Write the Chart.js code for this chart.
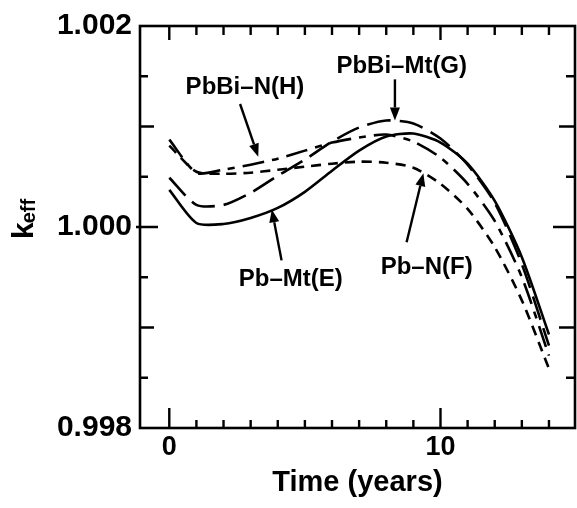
<!DOCTYPE html>
<html><head><meta charset="utf-8">
<script src="https://cdn.jsdelivr.net/npm/chart.js@4.4.1/dist/chart.umd.min.js"></script>
<style>html,body{margin:0;padding:0;background:#fff;}#wrap{width:577px;height:508px;}</style>
</head><body><div id="wrap"><canvas id="c" width="577" height="508"></canvas></div>
<script>
// ---- data ----
const years   = [0, 1, 2, 3, 4, 5, 6, 7, 8, 9, 10, 11, 12, 13, 14];
const pbMtE   = [1.00037, 1.00004, 1.00003, 1.00009, 1.00019, 1.00035, 1.00056, 1.00076, 1.00090, 1.00093, 1.00084, 1.00063, 1.00026, 0.99970, 0.99893];
const pbNF    = [1.00081, 1.00055, 1.00053, 1.00054, 1.00057, 1.00060, 1.00063, 1.00065, 1.00064, 1.00059, 1.00043, 1.00018, 0.99980, 0.99927, 0.99859];
const pbBiMtG = [1.00049, 1.00022, 1.00022, 1.00034, 1.00051, 1.00067, 1.00085, 1.00099, 1.00106, 1.00103, 1.00088, 1.00062, 1.00024, 0.99963, 0.99882];
const pbBiNH  = [1.00087, 1.00054, 1.00057, 1.00062, 1.00068, 1.00076, 1.00084, 1.00089, 1.00092, 1.00085, 1.00069, 1.00043, 1.00006, 0.99950, 0.99872];
const xTickLabels = [0, 10];
const yTickLabels = [0.998, 1.000, 1.002];
const xMinorTicks = [0, 1, 2, 3, 4, 5, 6, 7, 8, 9, 10, 11, 12, 13, 14];
const yMinorTicks = [0.9985, 0.999, 0.9995, 1.000, 1.0005, 1.001, 1.0015];

const FONT = "'Liberation Sans', Arial, Helvetica, sans-serif";
const pts = arr => years.map((x, i) => ({x: x, y: arr[i]}));

const annotations = [
  {text: 'PbBi–N(H)',  x: 2.79, y: 1.001322, tail: [2.61, 1.001224], tip: [3.28, 1.000700]},
  {text: 'PbBi–Mt(G)', x: 8.57, y: 1.001535, tail: [8.32, 1.001469], tip: [8.32, 1.001060]},
  {text: 'Pb–Mt(E)',   x: 4.48, y: 0.999415, tail: [4.14, 0.999668], tip: [3.78, 1.000175]},
  {text: 'Pb–N(F)',    x: 9.49, y: 0.999533, tail: [8.75, 0.999848], tip: [9.37, 1.000536]}
];

const decor = {
  id: 'decor',
  afterDatasetsDraw(chart) {
    const ctx = chart.ctx, a = chart.chartArea;
    const xs = chart.scales.x, ys = chart.scales.y;
    ctx.save();
    ctx.strokeStyle = '#000'; ctx.fillStyle = '#000';
    ctx.lineWidth = 2.6; ctx.setLineDash([]);
    ctx.strokeRect(a.left, a.top, a.right - a.left, a.bottom - a.top);
    ctx.lineWidth = 2.4;
    xMinorTicks.forEach(v => {
      const px = xs.getPixelForValue(v);
      const major = xTickLabels.includes(v);
      ctx.beginPath();
      ctx.moveTo(px, a.bottom); ctx.lineTo(px, a.bottom - (major ? 20 : 8));
      ctx.moveTo(px, a.top); ctx.lineTo(px, a.top + (major ? 14 : 9));
      ctx.stroke();
    });
    yMinorTicks.forEach(v => {
      const py = ys.getPixelForValue(v);
      const k = Math.round(v * 10000);
      let L = 8, R = 9;
      if (k % 10 === 0) { L = 14; R = 16; }
      if (k === 10000) { L = 18; R = 22; }
      ctx.beginPath();
      ctx.moveTo(a.left - (k === 10000 ? 4 : 0), py); ctx.lineTo(a.left + L, py);
      ctx.moveTo(a.right, py); ctx.lineTo(a.right - R, py);
      ctx.stroke();
    });
    ctx.font = 'bold 24px ' + FONT;
    ctx.textAlign = 'center'; ctx.textBaseline = 'alphabetic';
    annotations.forEach(an => {
      ctx.fillText(an.text, xs.getPixelForValue(an.x), ys.getPixelForValue(an.y));
      const x0 = xs.getPixelForValue(an.tail[0]), y0 = ys.getPixelForValue(an.tail[1]);
      const x1 = xs.getPixelForValue(an.tip[0]),  y1 = ys.getPixelForValue(an.tip[1]);
      const ang = Math.atan2(y1 - y0, x1 - x0), hl = 13, hw = 5;
      const bx = x1 - hl * Math.cos(ang), by = y1 - hl * Math.sin(ang);
      ctx.lineWidth = 2.4;
      ctx.beginPath(); ctx.moveTo(x0, y0); ctx.lineTo(bx, by); ctx.stroke();
      ctx.beginPath();
      ctx.moveTo(x1, y1);
      ctx.lineTo(bx + hw * Math.sin(ang), by - hw * Math.cos(ang));
      ctx.lineTo(bx - hw * Math.sin(ang), by + hw * Math.cos(ang));
      ctx.closePath(); ctx.fill();
    });
    const cy = ys.getPixelForValue(1.000);
    ctx.translate(33, cy + 12);
    ctx.rotate(-Math.PI / 2);
    ctx.textAlign = 'left';
    ctx.font = 'bold 30px ' + FONT;
    ctx.fillText('k', 0, 0);
    const kw = ctx.measureText('k').width;
    ctx.font = 'bold 20px ' + FONT;
    ctx.fillText('eff', kw - 1, 2);
    ctx.restore();
  }
};

new Chart(document.getElementById('c'), {
  type: 'line',
  data: {
    datasets: [
      {label: 'Pb–Mt(E)',   data: pts(pbMtE),   borderDash: []},
      {label: 'Pb–N(F)',    data: pts(pbNF),    borderDash: [10, 7]},
      {label: 'PbBi–Mt(G)', data: pts(pbBiMtG), borderDash: [24, 9]},
      {label: 'PbBi–N(H)',  data: pts(pbBiNH),  borderDash: [22, 8, 7, 8]}
    ].map(d => Object.assign({borderColor: '#000', borderWidth: 2.6, pointRadius: 0, tension: 0.25, fill: false}, d))
  },
  options: {
    responsive: false, animation: false, devicePixelRatio: 1,
    layout: {padding: {left: 0, right: 2, top: 21, bottom: 0}},
    plugins: {legend: {display: false}, tooltip: {enabled: false}},
    scales: {
      x: {
        type: 'linear', min: -1.08, max: 14.96,
        afterBuildTicks: s => { s.ticks = xTickLabels.map(v => ({value: v})); },
        afterFit: s => { s.height = 80; },
        grid: {display: false, drawTicks: false}, border: {display: false},
        ticks: {autoSkip: false, maxRotation: 0, padding: 3, color: '#000', font: {family: FONT, size: 27, weight: 'bold'}, callback: v => String(v)},
        title: {display: true, text: 'Time (years)', color: '#000', font: {family: FONT, size: 29, weight: 'bold'}, padding: {top: 0, bottom: 8}}
      },
      y: {
        min: 0.998, max: 1.002,
        afterBuildTicks: s => { s.ticks = yTickLabels.map(v => ({value: v})); },
        afterFit: s => { s.width = 140; },
        grid: {display: false, drawTicks: false}, border: {display: false},
        ticks: {autoSkip: false, padding: 8, color: '#000', font: {family: FONT, size: 30, weight: 'bold'}, callback: v => Number(v).toFixed(3)}
      }
    }
  },
  plugins: [decor]
});
</script></body></html>
